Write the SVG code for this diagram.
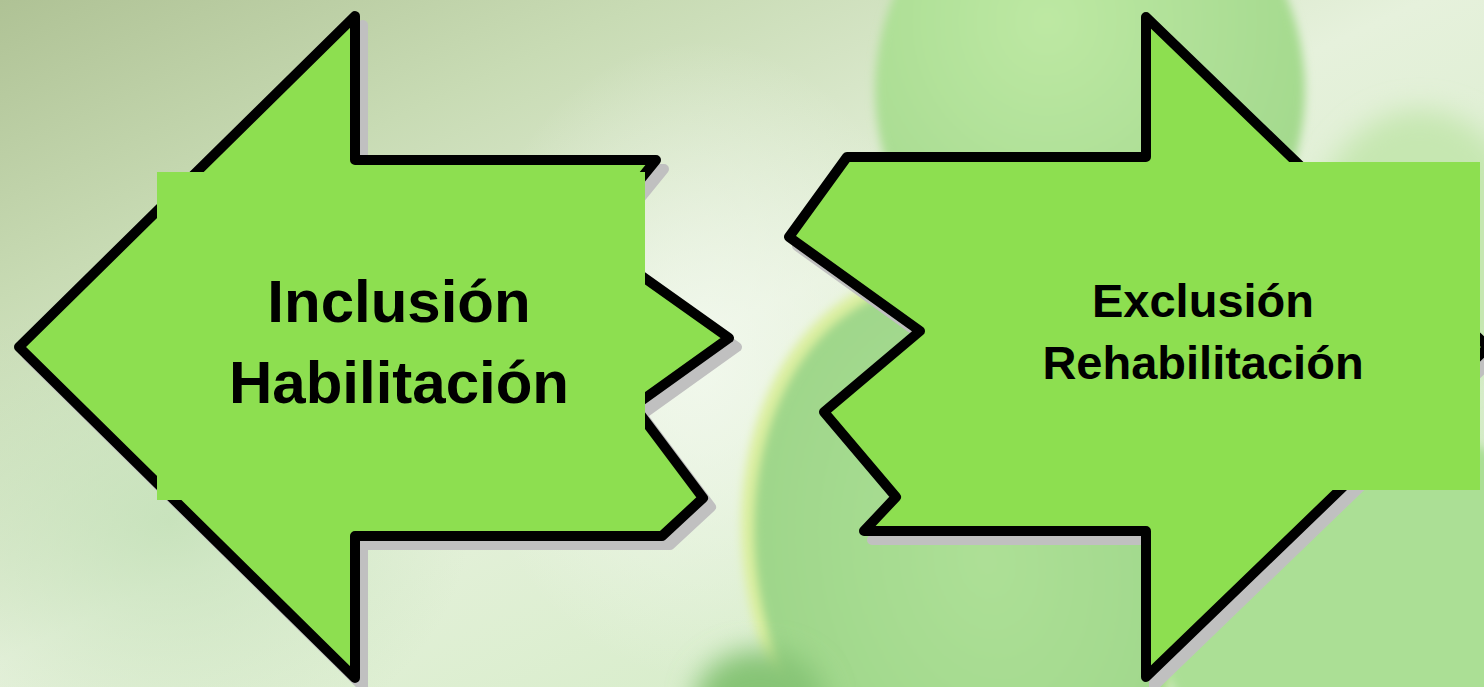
<svg xmlns="http://www.w3.org/2000/svg" width="1484" height="687" viewBox="0 0 1484 687">
  <defs>
    <linearGradient id="bg" x1="0" y1="0" x2="1" y2="1">
      <stop offset="0" stop-color="#afc295"/>
      <stop offset="0.22" stop-color="#c8dbb4"/>
      <stop offset="0.48" stop-color="#e6f1dc"/>
      <stop offset="0.75" stop-color="#d8edcb"/>
      <stop offset="1" stop-color="#cce8bd"/>
    </linearGradient>
    <radialGradient id="glow" cx="0.5" cy="0.5" r="0.5">
      <stop offset="0" stop-color="#f3f9ef" stop-opacity="0.85"/>
      <stop offset="1" stop-color="#f3f9ef" stop-opacity="0"/>
    </radialGradient>
    <radialGradient id="leafA" cx="0.4" cy="0.35" r="0.65">
      <stop offset="0" stop-color="#bde8a3"/>
      <stop offset="1" stop-color="#a3d98d"/>
    </radialGradient>
    <radialGradient id="leafB" cx="0.55" cy="0.5" r="0.6">
      <stop offset="0" stop-color="#ade096"/>
      <stop offset="1" stop-color="#9dd589"/>
    </radialGradient>
    <radialGradient id="greenL" cx="0.5" cy="0.5" r="0.5">
      <stop offset="0" stop-color="#c2e0b6" stop-opacity="0.8"/>
      <stop offset="1" stop-color="#c2e0b6" stop-opacity="0"/>
    </radialGradient>
    <filter id="soft" x="-20%" y="-20%" width="140%" height="140%">
      <feGaussianBlur stdDeviation="5"/>
    </filter>
    <filter id="softer" x="-30%" y="-30%" width="160%" height="160%">
      <feGaussianBlur stdDeviation="14"/>
    </filter>
    <style>
      .shadow { fill: #c0c0c0; stroke: #c0c0c0; stroke-width: 10; stroke-linejoin: round; }
      .shape { fill: #8ddf50; stroke: #000000; stroke-width: 10; stroke-linejoin: round; }
      .box { fill: #8ddf50; }
      .lbl { font-family: "Liberation Sans", Arial, sans-serif; font-weight: bold; fill: #000000; text-anchor: middle; }
    </style>
  </defs>

  <!-- background -->
  <g id="background">
    <rect x="0" y="0" width="1484" height="687" fill="url(#bg)"/>
    <ellipse cx="170" cy="520" rx="300" ry="240" fill="url(#greenL)"/>
    <ellipse cx="700" cy="360" rx="240" ry="320" fill="url(#glow)"/>
    <!-- top leaf -->
    <ellipse cx="1090" cy="90" rx="215" ry="230" fill="url(#leafA)" filter="url(#soft)"/>
    <!-- lower-left leaf -->
    <ellipse cx="960" cy="560" rx="215" ry="290" transform="rotate(-12 960 560)" fill="#dcefa0" filter="url(#soft)"/>
    <ellipse cx="966" cy="565" rx="208" ry="284" transform="rotate(-12 966 565)" fill="url(#leafB)" filter="url(#soft)"/>
    <!-- bottom-right leaf -->
    <ellipse cx="1370" cy="610" rx="215" ry="190" fill="#abdf95" filter="url(#soft)"/>
    <!-- right upper light area -->
    <ellipse cx="1420" cy="250" rx="110" ry="140" fill="#c6e7b1" filter="url(#softer)"/>
    <!-- dark blob bottom -->
    <ellipse cx="760" cy="700" rx="65" ry="50" fill="#86c476" filter="url(#softer)"/>
  </g>

  <g id="connectors"/>

  <!-- left arrow: Inclusión / Habilitación -->
  <g id="node-inclusion">
    <path class="shadow" transform="translate(8 9)" d="M19,347 L355,16 L355,160 L656,160 L591,240 L729,338 L634,406 L703,498 L662,536 L355,536 L355,678 Z"/>
    <path class="shape" d="M19,347 L355,16 L355,160 L656,160 L591,240 L729,338 L634,406 L703,498 L662,536 L355,536 L355,678 Z"/>
    <rect class="box" x="157" y="172" width="488" height="328"/>
    <text class="lbl" x="399" y="322" font-size="60">Inclusión</text>
    <text class="lbl" x="399" y="403" font-size="60">Habilitación</text>
  </g>

  <!-- right arrow: Exclusión / Rehabilitación -->
  <g id="node-exclusion">
    <path class="shadow" transform="translate(8 9)" d="M1488,347 L1146,677 L1146,531 L864,531 L896,497 L824,412 L920,331 L789,237 L847,157 L1146,157 L1146,17 Z"/>
    <path class="shape" d="M1488,347 L1146,677 L1146,531 L864,531 L896,497 L824,412 L920,331 L789,237 L847,157 L1146,157 L1146,17 Z"/>
    <rect class="box" x="932" y="162" width="548" height="328"/>
    <text class="lbl" x="1203" y="317" font-size="47">Exclusión</text>
    <text class="lbl" x="1203" y="379" font-size="47">Rehabilitación</text>
  </g>
</svg>
